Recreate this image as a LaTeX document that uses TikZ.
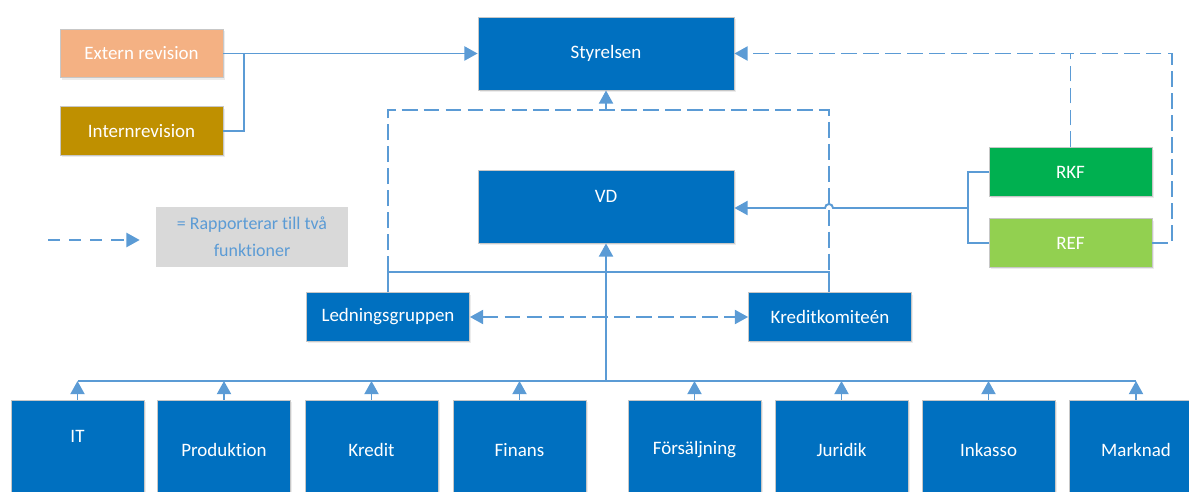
\documentclass[tikz,border=0pt]{standalone}
\usepackage{fontspec}
\setmainfont{Carlito}[Ligatures=NoCommon]
\usepackage{tikz}
\usetikzlibrary{arrows.meta,shadows}
\tikzset{>={Triangle[length=7.5pt,width=8pt]}}
\usepackage{xcolor}
\definecolor{boxblue}{HTML}{0070C0}
\definecolor{lineblue}{HTML}{5B9BD5}
\definecolor{extcol}{HTML}{F4B183}
\definecolor{intcol}{HTML}{BF9000}
\definecolor{rkfcol}{HTML}{00B050}
\definecolor{refcol}{HTML}{92D050}
\definecolor{keygray}{HTML}{D9D9D9}

\begin{document}
\begin{tikzpicture}[x=0.02cm,y=-0.02cm,
    box/.style={draw=black!22,line width=0.5pt,text=white,inner sep=2pt,
      drop shadow={opacity=0.15,shadow xshift=1pt,shadow yshift=-1.2pt},
      font=\fontsize{10.8}{13}\selectfont},
    bigbox/.style={box,fill=boxblue,minimum width=5.12cm,minimum height=1.46cm},
    midbox/.style={box,minimum width=3.26cm,minimum height=0.97cm},
    unitbox/.style={box,fill=boxblue,minimum width=2.66cm,minimum height=2cm},
    line/.style={lineblue,line width=1.1pt},
    dline/.style={line,dash pattern=on 9pt off 3.5pt}]
    \message{Organisation^^J}
    \useasboundingbox (0,0) rectangle (1189,492);

    \node[bigbox] (sty) at (606,53.5) {Styrelsen};
    \node[bigbox] (vd) at (606,206.5) {\raisebox{5pt}[.7em][.2em]{VD}};

    \node[midbox,fill=extcol] (ext) at (141.5,53.5) {Extern revision};
    \node[midbox,fill=intcol] (int) at (141.5,131) {Internrevision};

    \node[midbox,fill=boxblue] (led) at (388,317) {Ledningsgruppen};
    \node[midbox,fill=boxblue] (kred) at (830,317) {Kreditkomiteén};

    \node[midbox,fill=rkfcol] (rkf) at (1070.5,172) {RKF};
    \node[midbox,fill=refcol] (ref) at (1070.5,243) {REF};

    \node[fill=keygray,text=lineblue,align=center,minimum width=3.84cm,minimum height=1.2cm,
      font=\fontsize{10.2}{15.3}\selectfont] (key) at (252,237) {= Rapporterar till två\\funktioner};

    \foreach \n/\x/\t in {it/77.5/{\raisebox{7pt}[.7em][.2em]{IT}},prod/224/Produktion,kredit/371.5/Kredit,
        fin/519.5/Finans,fors/694.5/Försäljning,jur/841.5/Juridik,ink/988.5/Inkasso,mark/1136/Marknad}
      \node[unitbox] (\n) at (\x,450) {\t};

    % revision
    \coordinate (revj) at (244,53.5);
    \draw[line,->] (ext.east) -- (sty.west);
    \draw[line] (int.east) -| (revj);

    % dashed loop to Styrelsen
    \coordinate (ltop) at (388,110);
    \coordinate (lmid) at (388,272);
    \coordinate (rtop) at (829,110);
    \coordinate (rmid) at (829,272);
    \draw[dline] (lmid) -- (ltop) -- (rtop) -- (rmid);
    \draw[dline,->] (sty.south |- ltop) -- (sty.south);
    \draw[line] (led.north -| lmid) -- (lmid) -- (rmid) -- (kred.north -| rmid);
    \draw[dline,<->] (led.east) -- (kred.west);

    % RKF / REF
    \coordinate (fj) at (968,208);
    \coordinate (refc) at (1172,53.5);
    \draw[line] (rkf.west) -| (fj) |- (ref.west);
    \draw[line,->] (fj) -- (833,208) arc[start angle=0,end angle=180,radius=2.27pt] -- (vd.east |- fj);
    \draw[dline,->] (rkf.north) |- (sty.east);
    \draw[dline] (ref.east) -| (refc) -- (rkf.north |- refc);

    % units
    \coordinate (bus) at (606,381);
    \draw[line] (it.north |- bus) -- (mark.north |- bus);
    \foreach \n in {it,prod,kredit,fin,fors,jur,ink,mark}
      \draw[line,->] (\n.north) -- (\n.north |- bus);
    \draw[line,->] (bus) -- (vd.south);

    % legend
    \coordinate (la) at (48,240);
    \draw[line,dash pattern=on 7pt off 5pt,->,shorten >=0.32cm] (la) -- (key.west |- la);

    \end{tikzpicture}
\end{document}
